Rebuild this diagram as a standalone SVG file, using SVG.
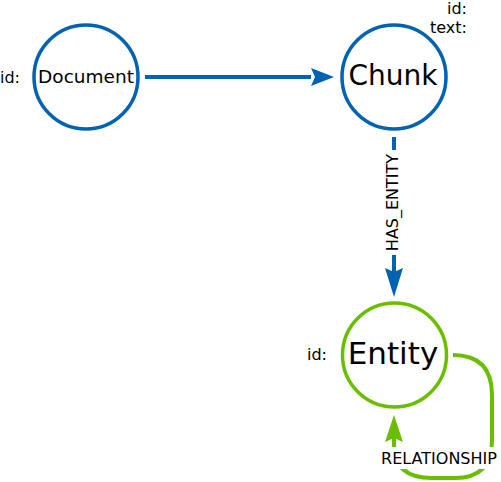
<svg xmlns="http://www.w3.org/2000/svg" width="501" height="482" viewBox="0 0 501 482">
<style>
text{font-family:"DejaVu Sans","Liberation Sans",sans-serif;fill:#000}
.node-blue{fill:#fff;stroke:#0063B1;stroke-width:3.5}
.node-green{fill:#fff;stroke:#6ABE00;stroke-width:3.5}
.prop{font-size:16px}
.rel{font-size:16px;text-anchor:middle}
.blue{fill:none;stroke:#0063B1;stroke-width:4}
.green{fill:none;stroke:#6ABE00;stroke-width:4}
</style>
<defs>
<marker id="ab" viewBox="0 0 22 18" refX="21" refY="9" markerWidth="22" markerHeight="18" markerUnits="userSpaceOnUse" orient="auto">
<path d="M0,0 L22,9 L0,18 L4,9 Z" fill="#0063B1"/>
</marker>
<marker id="ag" viewBox="0 0 27 18" refX="26" refY="9" markerWidth="27" markerHeight="18" markerUnits="userSpaceOnUse" orient="auto">
<path d="M0,0 L27,9 L0,18 L4,9 Z" fill="#6ABE00"/>
</marker>
</defs>
<g id="connectors">
<line class="blue" x1="145" y1="77" x2="311" y2="77"/>
<path d="M311,68 L334,77 L311,86 L315,77 Z" fill="#0063B1"/>
<line class="blue" x1="394" y1="137" x2="394" y2="272"/>
<path d="M385,268 L394,297 L403,268 L394,272 Z" fill="#0063B1"/>
<rect x="383" y="150" width="18" height="105" fill="#fff"/>
<text class="rel" transform="translate(398,202.5) rotate(-90)">HAS_ENTITY</text>
<path class="green" d="M453,355 Q492,355 492,395 L492,440 Q492,478 455,478 L432,478 Q394,478 394,445 L394,438"/>
<path d="M385,442 L394,415 L403,442 L394,438 Z" fill="#6ABE00"/>
<rect x="378" y="447" width="123" height="22" fill="#fff"/>
<text class="rel" x="439" y="464">RELATIONSHIP</text>
</g>
<g id="document">
<circle class="node-blue" cx="86" cy="77" r="52"/>
<text x="86" y="83" font-size="18.5" text-anchor="middle">Document</text>
<text class="prop" x="0" y="83">id:</text>
</g>
<g id="chunk">
<circle class="node-blue" cx="394" cy="77" r="52"/>
<text x="393" y="85" font-size="28" text-anchor="middle">Chunk</text>
<text class="prop" x="467" y="14" text-anchor="end">id:</text>
<text class="prop" x="467" y="33" text-anchor="end">text:</text>
</g>
<g id="entity">
<circle class="node-green" cx="394.5" cy="355" r="52"/>
<text x="393" y="364" font-size="31" text-anchor="middle">Entity</text>
<text class="prop" x="307" y="360">id:</text>
</g>
</svg>
